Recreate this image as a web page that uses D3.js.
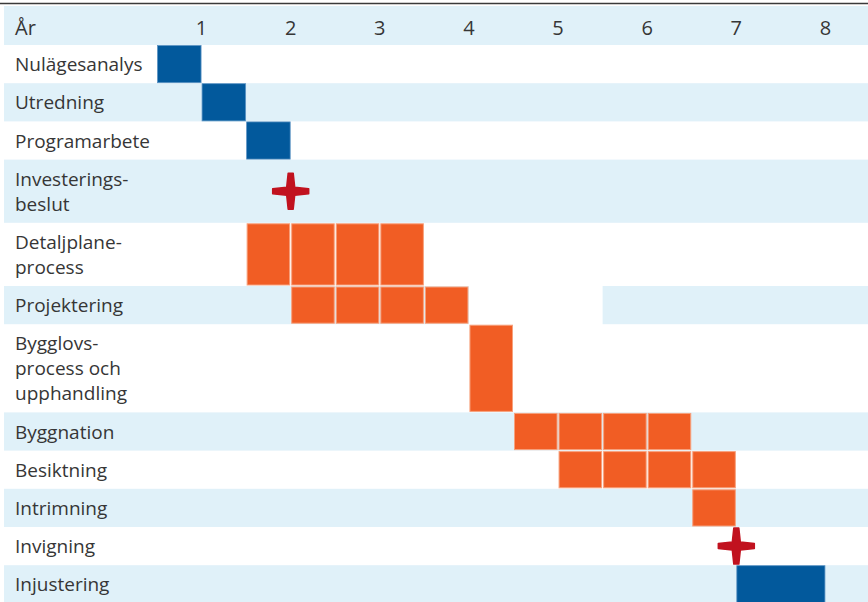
<!DOCTYPE html>
<html>
<head>
<meta charset="utf-8">
<script src="https://cdn.jsdelivr.net/npm/d3@7"></script>
<style>
  body { margin: 0; background: #fff; }
  svg { display: block; font-family: "Open Sans", sans-serif; }
  .label { fill: #363636; font-size: 19px; }
  .year { fill: #363636; font-size: 20px; }
</style>
</head>
<body>
<svg width="868" height="602"></svg>
<script>
// rows of the time plan (line breaks as in the original)
const tasks = ['Nulägesanalys', 'Utredning', 'Programarbete', 'Investerings-\nbeslut',
  'Detaljplane-\nprocess', 'Projektering', 'Bygglovs-\nprocess och\nupphandling',
  'Byggnation', 'Besiktning', 'Intrimning', 'Invigning', 'Injustering'];
// start and length in half years, 0 = start of year 1
const starts  = [0, 1, 2, 3, 2, 3, 7, 8, 9, 12, 13, 13];
const lengths = [1, 1, 1, 0, 4, 4, 1, 4, 4, 1, 0, 2];
// plan = blue block, build = orange half-year cells, milestone = red star
const kinds = ['plan', 'plan', 'plan', 'milestone', 'build', 'build', 'build',
  'build', 'build', 'build', 'milestone', 'plan'];
const years = [1, 2, 3, 4, 5, 6, 7, 8];
// the shaded band of Projektering is broken between these half years
const bandGap = { task: 5, from: 7, to: 10 };

const svg = d3.select('svg');
const W = 868, left0 = 157, top0 = 45;

const x = d3.scaleLinear().domain([0, 16]).range([left0, 870]);

// variable row heights, depending on number of text lines
const lines = tasks.map(t => t.split('\n').length);
const heights = lines.map(n => 38.2 + 25 * (n - 1));
const offsets = [0].concat(Array.from(d3.cumsum(heights)));
const y = d3.scaleOrdinal().domain(d3.range(tasks.length)).range(offsets.map(o => top0 + o));

// top rule and header
svg.append('line')
  .attr('x1', 0).attr('x2', W).attr('y1', 3.5).attr('y2', 3.5)
  .attr('stroke', '#3a3a3a').attr('stroke-width', 1.6);
svg.append('rect')
  .attr('x', 4).attr('y', 6).attr('width', W - 4).attr('height', top0 - 6)
  .attr('fill', '#e0f1f9');
svg.append('text').attr('class', 'year').attr('x', 15).attr('y', 35).text('År');
svg.selectAll('.yr')
  .data(years)
  .join('text')
  .attr('class', 'year')
  .attr('text-anchor', 'middle')
  .attr('x', d => x(2 * d - 1))
  .attr('y', 35)
  .text(d => d);

// shaded bands on every other row
const bandRows = d3.range(tasks.length).filter(i => i % 2 === 1);
bandRows.forEach(i => {
  const segs = i === bandGap.task
    ? [[4, x(bandGap.from)], [x(bandGap.to), W]]
    : [[4, W]];
  segs.forEach(s => {
    svg.append('rect')
      .attr('x', s[0]).attr('y', y(i))
      .attr('width', s[1] - s[0]).attr('height', heights[i])
      .attr('fill', '#e0f1f9');
  });
});

// row labels
tasks.forEach((t, i) => {
  const ls = t.split('\n');
  const cy = y(i) + heights[i] / 2;
  const txt = svg.append('text').attr('class', 'label');
  ls.forEach((l, j) => {
    txt.append('tspan')
      .attr('x', 15)
      .attr('y', cy - (ls.length - 1) * 12.5 + j * 25 + 7)
      .text(l);
  });
});

// blue planning blocks
const plans = d3.range(tasks.length).filter(i => kinds[i] === 'plan');
svg.selectAll('.plan')
  .data(plans)
  .join('rect')
  .attr('class', 'plan')
  .attr('x', i => x(starts[i]) + 0.5)
  .attr('y', i => y(i) + 0.5)
  .attr('width', i => x(starts[i] + lengths[i]) - x(starts[i]) - 1)
  .attr('height', i => heights[i] - 1)
  .attr('fill', '#02599c')
  .attr('stroke', '#5b93c4')
  .attr('stroke-width', 0.8);

// orange half-year cells
const cells = [];
d3.range(tasks.length).filter(i => kinds[i] === 'build').forEach(i => {
  d3.range(lengths[i]).forEach(k => cells.push({ row: i, h: starts[i] + k }));
});
svg.selectAll('.cell')
  .data(cells)
  .join('rect')
  .attr('class', 'cell')
  .attr('x', d => x(d.h) + 1)
  .attr('y', d => y(d.row) + 1)
  .attr('width', d => x(d.h + 1) - x(d.h) - 2)
  .attr('height', d => heights[d.row] - 2)
  .attr('fill', '#f15d24')
  .attr('stroke', '#f7a17d')
  .attr('stroke-width', 1);

// milestones as four-pointed stars
const star = 'M-2.5,-18L2.5,-18L4,-4L18,-2.5L18,2.5L4,4L2.5,18L-2.5,18L-4,4L-18,2.5L-18,-2.5L-4,-4Z';
const miles = d3.range(tasks.length).filter(i => kinds[i] === 'milestone');
svg.selectAll('.star')
  .data(miles)
  .join('path')
  .attr('class', 'star')
  .attr('d', star)
  .attr('transform', i => `translate(${x(starts[i])},${y(i) + heights[i] / 2})`)
  .attr('fill', '#c1121f')
  .attr('stroke', '#c1121f')
  .attr('stroke-width', 1.5)
  .attr('stroke-linejoin', 'round');
</script>
</body>
</html>
